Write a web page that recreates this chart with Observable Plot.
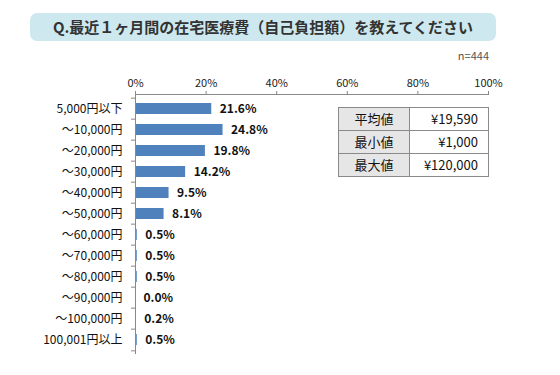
<!DOCTYPE html>
<html>
<head>
<meta charset="utf-8">
<script src="https://cdn.jsdelivr.net/npm/d3@7"></script>
<script src="https://cdn.jsdelivr.net/npm/@observablehq/plot@0.6"></script>
<style>
  body { margin: 0; background: #fff; font-family: "Noto Sans CJK JP", "Noto Sans", sans-serif; }
  #wrap { position: relative; width: 560px; height: 375px; overflow: hidden; }
  #title {
    position: absolute; left: 30px; top: 13px; width: 466px; height: 28px;
    background: #cde9ef; border-radius: 7px;
    font-weight: bold; font-size: 15px; color: #333; line-height: 28px; text-align: center;
  }
  #n { position: absolute; right: 71px; top: 47px; font-size: 11px; color: #555; }
  #chart { position: absolute; left: 0; top: 0; }
  #stats {
    position: absolute; left: 338px; top: 107px; width: 151px;
    border-collapse: collapse; font-size: 13px; color: #111;
  }
  #stats td { border: 1px solid #8a8a8a; height: 22px; padding: 0; line-height: 22px; }
  #stats td.k { background: #e6e6e6; text-align: center; width: 70px; }
  #stats td.v { background: #fff; text-align: right; padding-right: 10px; }
</style>
</head>
<body>
<div id="wrap">
  <div id="chart"></div>
  <div id="title"></div>
  <div id="n"></div>
  <table id="stats"></table>
</div>
<script>
const titleText = "Q.最近１ヶ月間の在宅医療費（自己負担額）を教えてください";
const sampleText = "n=444";
const categories = ["5,000円以下", "～10,000円", "～20,000円", "～30,000円", "～40,000円", "～50,000円",
  "～60,000円", "～70,000円", "～80,000円", "～90,000円", "～100,000円", "100,001円以上"];
const values = [21.6, 24.8, 19.8, 14.2, 9.5, 8.1, 0.5, 0.5, 0.5, 0.0, 0.2, 0.5];
const xTicks = [0, 20, 40, 60, 80, 100];
const statLabels = ["平均値", "最小値", "最大値"];
const statValues = ["¥19,590", "¥1,000", "¥120,000"];

document.getElementById("title").textContent = titleText;
document.getElementById("n").textContent = sampleText;
const tbl = document.getElementById("stats");
statLabels.forEach((k, i) => {
  const tr = document.createElement("tr");
  const a = document.createElement("td"); a.className = "k"; a.textContent = k;
  const b = document.createElement("td"); b.className = "v"; b.textContent = statValues[i];
  tr.append(a, b); tbl.append(tr);
});

const data = categories.map((c, i) => ({category: c, value: values[i]}));
const W = 560, H = 375, mT = 94, mB = 21, mL = 135, mR = 72;
const step = (H - mT - mB) / categories.length;
const tickLen = 4 * 100 / (W - mL - mR);

const chart = Plot.plot({
  width: W, height: H,
  marginTop: mT, marginBottom: mB, marginLeft: mL, marginRight: mR,
  style: {fontFamily: "'Noto Sans CJK JP', 'Noto Sans', sans-serif", fontSize: "12px", color: "#111", background: "transparent"},
  x: {domain: [0, 100], label: null},
  y: {domain: categories, paddingInner: 0.5, paddingOuter: 0.25, label: null},
  marks: [
    Plot.barX(data, {x: "value", y: "category", fill: "#4f81bd", insetLeft: 1}),
    Plot.frame({anchor: "top", stroke: "#888"}),
    Plot.ruleX([0], {stroke: "#888"}),
    Plot.ruleY(categories, {y: d => d, x1: -tickLen, x2: 0, dy: -step / 2, stroke: "#888"}),
    Plot.ruleY(categories.slice(-1), {y: d => d, x1: -tickLen, x2: 0, dy: step / 2, stroke: "#888"}),
    Plot.axisX({anchor: "top", label: null, ticks: xTicks, tickFormat: d => d + "%", tickSize: 4, tickPadding: 4, fontSize: 11, stroke: "#888", color: "#222"}),
    Plot.axisY({anchor: "left", label: null, tickSize: 0, tickPadding: 13, fontSize: 12}),
    Plot.text(data, {x: "value", y: "category", text: d => d.value.toFixed(1) + "%", textAnchor: "start", dx: 8, fontWeight: "bold", fontSize: 12, fill: "#111"})
  ]
});
document.getElementById("chart").append(chart);
</script>
</body>
</html>
